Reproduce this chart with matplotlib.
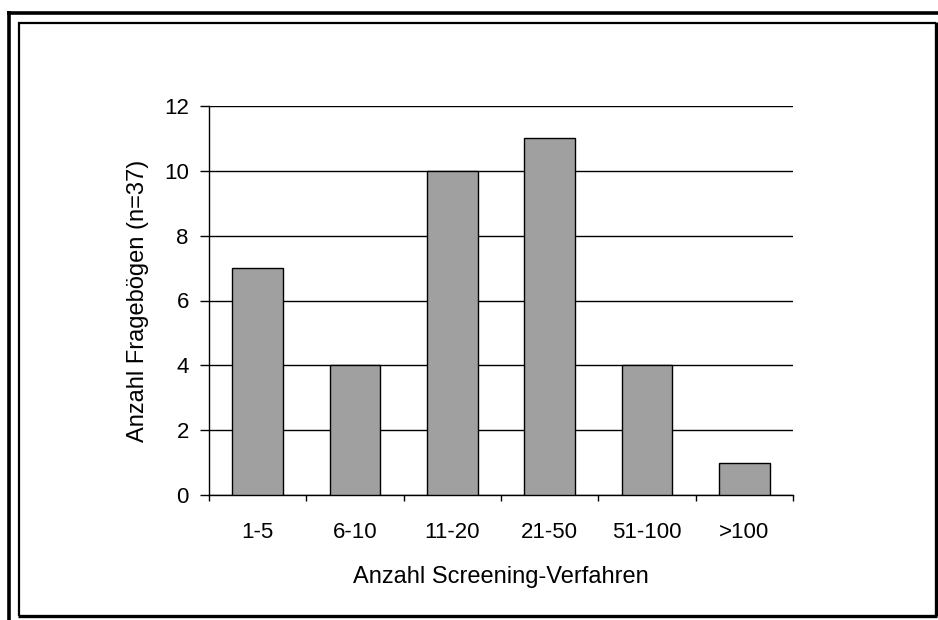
import matplotlib.pyplot as plt
from matplotlib.lines import Line2D

plt.rcParams['font.family'] = ['Liberation Sans', 'DejaVu Sans']

# Daten
kategorien = ['1-5', '6-10', '11-20', '21-50', '51-100', '>100']
anzahl = [7, 4, 10, 11, 4, 1]

W, H = 938, 620
fig = plt.figure(figsize=(W / 100, H / 100), dpi=100)
ax = fig.add_axes([209 / W, 1 - 495 / H, (793 - 209) / W, (495 - 106) / H])

pos = list(range(len(kategorien)))
ax.bar(pos, anzahl, width=0.52, color='#a0a0a0', edgecolor='black', linewidth=1, zorder=3)

ax.set_xlim(-0.5, len(kategorien) - 0.5)
ax.set_ylim(0, 12)
ax.set_yticks(range(0, 13, 2))
ax.yaxis.grid(True, color='black', linewidth=1)
ax.set_axisbelow(True)

ax.set_xticks([p - 0.5 for p in pos] + [len(kategorien) - 0.5])
ax.set_xticklabels([])
ax.set_xticks(pos, minor=True)
ax.set_xticklabels(kategorien, minor=True)
ax.tick_params(axis='x', which='major', direction='out', length=4, width=1, color='black')
ax.tick_params(axis='x', which='minor', length=0, pad=19.5, labelsize=16)
ax.tick_params(axis='y', direction='out', length=6.5, width=1, pad=8, labelsize=16)

for s in ['top', 'right']:
    ax.spines[s].set_visible(False)
for s in ['left', 'bottom']:
    ax.spines[s].set_linewidth(1)
    ax.spines[s].set_color('black')

ax.set_xlabel('Anzahl Screening-Verfahren', fontsize=17, labelpad=16.5)
ax.set_ylabel('Anzahl Fragebögen (n=37)', fontsize=17, labelpad=11)


def px_line(x0, y0, x1, y1, lw, c='black'):
    fig.add_artist(Line2D([x0 / W, x1 / W], [1 - y0 / H, 1 - y1 / H],
                          transform=fig.transFigure, color=c, linewidth=lw,
                          solid_capstyle='butt'))


# Rahmen
px_line(7, 12.5, W, 12.5, 2.6)
px_line(8.5, 11, 8.5, H, 2.6)
px_line(18, 23, 936, 23, 1.6)
px_line(19, 22, 19, 616, 1.6)
px_line(935.5, 22, 935.5, 616, 2.4)
px_line(18, 615.5, 937, 615.5, 2.4)

plt.savefig('out.png', dpi=100)
